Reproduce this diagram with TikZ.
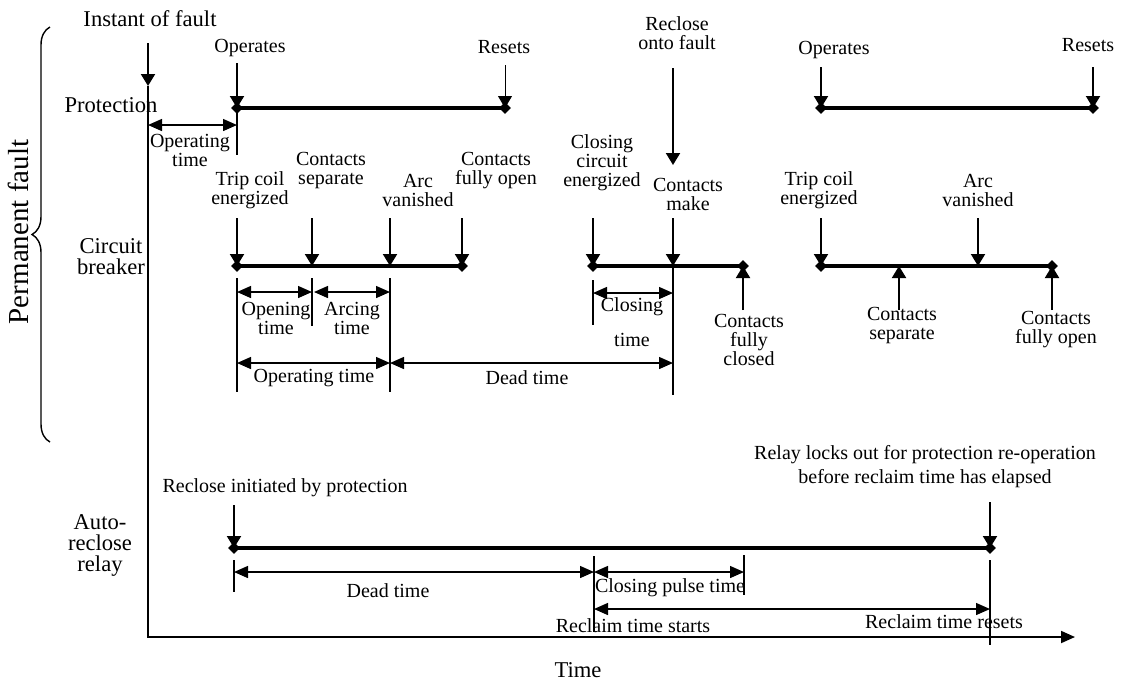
\documentclass[tikz,border=0pt]{standalone}
\usepackage{fontspec}
\setmainfont{Liberation Serif}
\usetikzlibrary{arrows.meta,decorations.pathreplacing,shapes.geometric}

\begin{document}
\begin{tikzpicture}[x=0.5pt,y=-0.5pt,
    font=\fontsize{10}{9.5}\selectfont,
    bar/.style={line width=2pt},
    evt/.style={line width=1pt,-{Triangle[length=6pt,width=7pt]}},
    thinevt/.style={line width=0.5pt,-{Triangle[length=6pt,width=7pt]}},
    span/.style={line width=0.7pt,{Triangle[length=7pt,width=6pt]}-{Triangle[length=7pt,width=6pt]}},
    tickline/.style={line width=0.6pt},
    enddot/.style={diamond,fill,inner sep=0pt,minimum size=6pt},
    rowlab/.style={font=\fontsize{11.3}{10.5}\selectfont,align=center},
    lab/.style={align=center}]
  \useasboundingbox (0,0) rectangle (1128,682);

  % axes
  \coordinate (top) at (148,43);
  \coordinate (fault) at (148,86);
  \coordinate (origin) at (148,637);
  \coordinate (tend) at (1075,637);
  \draw[evt] (top) -- (fault);
  \draw[line width=0.9pt,-{Triangle[length=7pt,width=6pt]}] (fault) -- (origin) -- (tend);
  \node[rowlab] (lfault) at (150,19) {Instant of fault};
  \node[rowlab] (ltime) at (578,670) {Time};
  \node[rowlab] (lprot) at (111,105) {Protection};
  \node[rowlab] (lcb) at (111,257) {Circuit\\breaker};
  \node[rowlab] (lrelay) at (100,545) {Auto-\\reclose\\relay};
  \draw[line width=0.7pt,decorate,decoration={brace,amplitude=9pt}]
    (50,442) -- (50,27);
  \node[rowlab,font=\fontsize{14.5}{15}\selectfont,rotate=90] (lperm) at (18,232) {Permanent fault};

  % protection
  \coordinate (pA) at (237,108);
  \coordinate (pB) at (505,108);
  \coordinate (pC) at (821,108);
  \coordinate (pD) at (1093,108);
  \draw[bar] (pA) -- (pB);
  \draw[bar] (pC) -- (pD);
  \draw[evt] (237,63) -- (pA);
  \draw[thinevt] (505,65) -- (pB);
  \draw[evt] (821,67) -- (pC);
  \draw[evt] (1093,67) -- (pD);
  \foreach \p in {pA,pB,pC,pD} \node[enddot] at (\p) {};
  \node[lab] (lop1) at (250,48) {Operates};
  \node[lab] (lrs1) at (504,47) {Resets};
  \node[lab] (lop2) at (834,50) {Operates};
  \node[lab] (lrs2) at (1088,45) {Resets};
  \node[lab] (lrof) at (677,33) {Reclose\\onto fault};
  \draw[evt] (673,68) -- (673,165);
  \draw[tickline] (pA) -- (237,155);
  \draw[span] (148,125) -- (237,125);
  \node[lab] (lopt) at (190,150) {Operating\\time};

  % circuit breaker
  \coordinate (cA) at (237,266);
  \coordinate (cB) at (312,266);
  \coordinate (cC) at (390,266);
  \coordinate (cD) at (462,266);
  \coordinate (cE) at (593,266);
  \coordinate (cF) at (673,266);
  \coordinate (cG) at (743,266);
  \coordinate (cH) at (821,266);
  \coordinate (cI) at (899,266);
  \coordinate (cJ) at (978,266);
  \coordinate (cK) at (1052,266);
  \draw[bar] (cA) -- (cD);
  \draw[bar] (cE) -- (cG);
  \draw[bar] (cH) -- (cK);
  \foreach \p in {cA,cB,cC,cD,cE,cF,cH,cJ}
    \draw[evt] ([yshift=24pt]\p) -- (\p);
  \foreach \p in {cG,cI,cK}
    \draw[evt] ([yshift=-22pt]\p) -- (\p);
  \foreach \p in {cA,cD,cE,cG,cH,cK} \node[enddot] at (\p) {};
  \node[lab] (ltc1) at (250,190) {Trip coil\\energized};
  \node[lab] (lcs1) at (331,170) {Contacts\\separate};
  \node[lab] (lav1) at (418,190) {Arc\\vanished};
  \node[lab] (lfo1) at (496,171) {Contacts\\fully open};
  \node[lab] (lcce) at (602,163) {Closing\\circuit\\energized};
  \node[lab] (lmake) at (688,194) {Contacts\\make};
  \node[lab] (lfc) at (749,340) {Contacts\\fully\\closed};
  \node[lab] (ltc2) at (819,190) {Trip coil\\energized};
  \node[lab] (lav2) at (978,190) {Arc\\vanished};
  \node[lab] (lcs2) at (902,325) {Contacts\\separate};
  \node[lab] (lfo2) at (1056,330) {Contacts\\fully open};

  \draw[tickline] (237,278) -- (237,392);
  \draw[tickline] (312,278) -- (312,326);
  \draw[tickline] (390,278) -- (390,392);
  \draw[span] (237,292) -- (312,292);
  \draw[span] (314,292) -- (390,292);
  \node[lab] (lopn) at (276,318) {Opening\\time};
  \node[lab] (larc) at (352,318) {Arcing\\time};
  \draw[span] (237,363) -- (390,363);
  \draw[span] (390,363) -- (673,363);
  \node[lab] (lopt2) at (314,378) {Operating time};
  \node[lab] (ldt1) at (527,378) {Dead time};
  \draw[tickline] (593,280) -- (593,325);
  \draw[tickline] (cF) -- (673,395);
  \draw[span] (593,293) -- (673,293);
  \node[lab] (lclt) at (632,322) {Closing\\[8pt]time};

  % auto-reclose relay
  \coordinate (rA) at (234,548);
  \coordinate (rB) at (990,548);
  \draw[bar] (rA) -- (rB);
  \draw[evt] (234,505) -- (rA);
  \draw[evt] (990,502) -- (rB);
  \foreach \p in {rA,rB} \node[enddot] at (\p) {};
  \node[lab] (lrip) at (285,488) {Reclose initiated by protection};
  \node[lab,font=\fontsize{10}{12}\selectfont] (llock) at (925,467)
    {Relay locks out for protection re-operation\\before reclaim time has elapsed};
  \draw[tickline] (234,560) -- (234,592);
  \draw[tickline] (594,556) -- (594,632);
  \draw[tickline] (744,555) -- (744,595);
  \draw[tickline] (990,560) -- (990,645);
  \draw[span] (234,572) -- (594,572);
  \draw[span] (594,572) -- (744,572);
  \draw[span] (594,609) -- (990,609);
  \node[lab] (ldt2) at (388,591) {Dead time};
  \node[lab] (lcpt) at (670,588) {Closing pulse time};
  \node[lab] (lrcs) at (633,626) {Reclaim time starts};
  \node[lab] (lrcr) at (944,622) {Reclaim time resets};
\end{tikzpicture}
\end{document}
